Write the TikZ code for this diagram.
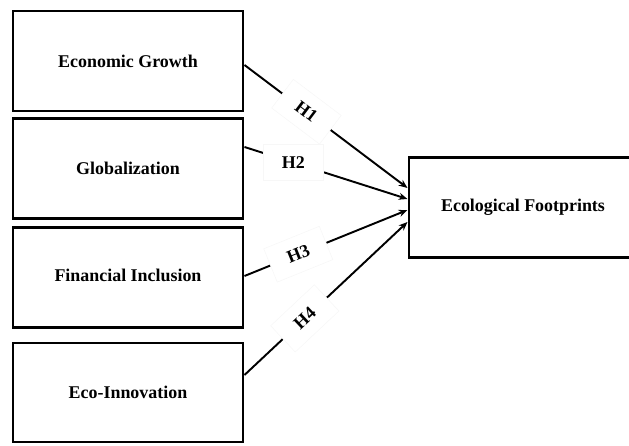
\documentclass[tikz,border=0pt]{standalone}
\usepackage{fontspec}
\setmainfont{Liberation Serif}
\usetikzlibrary{arrows.meta}
\tikzset{
  >=Stealth,
  box/.style={rectangle, draw, line width=1.7pt, inner sep=0pt, minimum width=4.6cm, minimum height=2cm, font=\fontsize{10.2}{12}\selectfont\bfseries},
  tr/.style={-{Stealth[length=5pt,width=4pt]}, line width=1.1pt},
  hyp/.style={rectangle, fill=white, draw=black!3, line width=0.3pt, inner sep=0pt, minimum width=1.2cm, minimum height=0.72cm, font=\fontsize{10.2}{12}\selectfont\bfseries}
}

\begin{document}
\begin{tikzpicture}
    \useasboundingbox (0,0) rectangle (12.58,8.92);

    % LEFT: independent variables
    \node[box] (eg) at (2.56, 7.70) {Economic Growth};
    \node[box] (gl) at (2.56, 5.55) {\raisebox{-0.1cm}{Globalization}};
    \node[box] (fi) at (2.56, 3.37) {\raisebox{0.1cm}{Financial Inclusion}};
    \node[box, minimum height=1.98cm] (ei) at (2.56, 1.07) {Eco-Innovation};

    % RIGHT: dependent variable
    \node[box, minimum width=4.56cm] (ef) at (10.46, 4.77) {Ecological Footprints};

    % Hypotheses
    \draw[tr] ([yshift=-0.08cm]eg.east) -- node[hyp, sloped, pos=0.38] (h1) {H1} ([yshift=0.39cm]ef.west);
    \draw[tr] ([yshift=0.43cm]gl.east) -- node[hyp, pos=0.30] (h2) {H2} ([yshift=0.17cm]ef.west);
    \draw[tr] ([yshift=0.03cm]fi.east) -- node[hyp, sloped, pos=0.33] (h3) {H3} ([yshift=-0.05cm]ef.west);
    \draw[tr] ([yshift=0.35cm]ei.east) -- node[hyp, sloped, pos=0.37] (h4) {H4} ([yshift=-0.29cm]ef.west);
\end{tikzpicture}
\end{document}
